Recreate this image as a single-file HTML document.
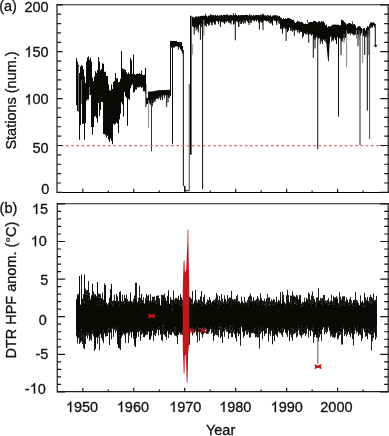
<!DOCTYPE html>
<html><head><meta charset="utf-8"><title>Figure</title>
<style>html,body{margin:0;padding:0;background:#fff;}body{width:389px;height:436px;overflow:hidden;}svg{display:block;will-change:transform;}</style>
</head><body>
<svg width="389" height="436" viewBox="0 0 389 436">
<defs><filter id="bl" x="0" y="0" width="100%" height="100%" color-interpolation-filters="sRGB"><feGaussianBlur stdDeviation="0.3"/></filter></defs>
<rect width="389" height="436" fill="#fff"/>
<g filter="url(#bl)">
<path d="M76.5 58V105.3M77.5 61.5V111M78.5 65V112M79.5 73V139.7M80.5 66.6V125M81.5 65V103.6M82.5 66V123.7M83.5 69.5V123.7M84.5 76.4V139.7M85.5 83V123M86.5 61.5V100.7M87.5 57.5V99.6M88.5 56.3V99.6M89.5 59.7V95M90.5 57.5V95M91.5 61.5V127M92.5 77.5V134.6M93.5 81V127M94.5 76.4V117M95.5 71.2V116M96.5 73V118M97.5 70V122.5M98.5 57V103M99.5 61.5V116.2M100.5 70.3V110M101.5 69V102M102.5 63.2V102M103.5 63.8V134M104.5 71.8V134M105.5 71.8V135M106.5 76V137.4M107.5 76V135.7M108.5 84.5V139.7M109.5 90V142M110.5 90.5V138.6M111.5 84.4V140.9M112.5 89V144.3M113.5 82V123.7M114.5 81V124.8M115.5 73V123.7M116.5 78.3V122.5M117.5 78.3V123.7M118.5 82.3V133M119.5 81.8V119.4M120.5 78.7V113.7M121.5 51V102.2M122.5 68.3V104.5M123.5 69V116.5M124.5 69.5V91.9M125.5 70V96.5M126.5 72.4V97.6M127.5 74V125.7M128.5 72.4V98.8M129.5 74V100M130.5 58V88.4M131.5 60.3V85.5M132.5 74V84.4M133.5 54.6V92.5M134.5 74V92M135.5 74.7V89.6M136.5 74V89.6M137.5 73.5V87.3M138.5 74V87.3M139.5 73V87.3M140.5 74V86.7M141.5 70.6V87.8M142.5 74.7V87.3M143.5 75.2V91.3M144.5 74.7V91.3M145.5 67.8V93.6M146.5 97.9V104.5M147.5 97.9V103.9M148.5 91.7V103.3M149.5 91.6V103.3M150.5 91.5V103.3M151.5 91.43V103.3M152.5 91.37V103.3M153.5 91.3V99.6M154.5 91.08V99.35M155.5 90.86V99.1M156.5 90.64V98.85M157.5 90.42V98.6M158.5 90.2V96.2M159.5 90.17V95.9M160.5 90.13V95.6M161.5 90.1V95.54M162.5 90.07V95.48M163.5 90.03V95.42M164.5 90V95.36M165.5 89.97V95.3M166.5 89.93V95.24M167.5 89.9V95.18M168.5 89.87V95.12M169.5 89.83V95.06M170.5 89.8V95M170.5 41V47.5M171.5 41V47.5M172.5 41V47.5M173.5 41V47.5M174.5 41V47.5M175.5 41V46.4M176.5 41V46.4M177.5 42.1V46.4M178.5 42.1V46.77M179.5 42.1V47.5M180.5 42.1V49.25M181.5 42.1V51M182.5 46V53.5M192.5 16.76V26.43M193.5 17.15V25.84M194.5 17.7V25.77M195.5 16.54V26.52M196.5 16.48V26.08M197.5 16.8V25.97M198.5 16.18V27.4M199.5 16.49V24.14M200.5 15.87V24.64M201.5 15.93V23.45M202.5 15.87V23.54M203.5 15.62V24.47M204.5 15.96V25.49M205.5 15.35V25.49M206.5 15.73V23.49M207.5 16.58V23.74M208.5 15.6V24.07M209.5 15.64V22.67M210.5 15.8V21.36M211.5 15.16V22.19M212.5 14.94V22.5M213.5 14.91V22.31M214.5 15.62V23.69M215.5 14.76V21.02M216.5 15.8V21.02M217.5 14.94V21.74M218.5 15.68V23.25M219.5 15.43V21.31M220.5 15.25V21.15M221.5 14.93V21.84M222.5 15.51V21.84M223.5 14.91V21.46M224.5 14.87V20.79M225.5 14.92V20.56M226.5 14.9V20.78M227.5 15.15V21.1M228.5 15.41V20.71M229.5 15.35V21.65M230.5 14.74V22.93M231.5 15.14V20.88M232.5 15.26V20.53M233.5 15.16V24.52M234.5 15.04V21.2M235.5 15.08V21.89M236.5 14.92V21.42M237.5 15.71V20.27M238.5 14.87V20.45M239.5 15.32V20.63M240.5 15.18V20.29M241.5 15.11V23.66M242.5 14.91V20.64M243.5 15.32V20.46M244.5 15V20.21M245.5 14.85V20.49M246.5 14.94V20.66M247.5 14.95V21.94M248.5 15.59V22.89M249.5 14.98V20.2M250.5 15.27V20.51M251.5 15.03V20.77M252.5 15.85V20.23M253.5 14.93V20.61M254.5 15.45V21.46M255.5 15.13V20.14M256.5 14.88V21.41M257.5 15.09V20.11M258.5 15.01V22.35M259.5 15.31V23.83M260.5 15.36V20.47M261.5 15.01V21.34M262.5 15.19V20.47M263.5 15.27V20.76M264.5 15.31V20.53M265.5 15.33V20.72M266.5 15.66V21.43M267.5 15.11V20.94M268.5 15.28V20.58M269.5 15.73V20.39M270.5 15.24V21.55M271.5 16.55V21.62M272.5 15.62V20.73M273.5 15.33V20.24M274.5 15.31V20.8M275.5 15.2V21.26M276.5 15.25V21.18M277.5 15.6V20.76M278.5 16.4V20.53M279.5 15.82V20.77M280.5 17.43V28.77M281.5 18.06V28.8M282.5 19.42V33.72M283.5 18.22V26.93M284.5 19.04V26.52M285.5 18.45V27.53M286.5 18.94V28.56M287.5 17.97V32.16M288.5 17.92V30.61M289.5 18.17V27.72M290.5 18.86V28.31M291.5 19.31V28.62M292.5 19.93V28.84M293.5 19.74V30.26M294.5 21.64V30.39M295.5 22.98V29.42M296.5 22.02V30.15M297.5 20.75V29.94M298.5 21.5V30.03M299.5 21.49V32.1M300.5 22.13V31.73M301.5 21.74V31.92M302.5 22.38V32.66M303.5 23.49V31.52M304.5 24.03V33.35M305.5 23.53V34.31M306.5 24.1V32.56M307.5 23.91V32.54M308.5 22.64V34.43M309.5 22.14V34.23M310.5 22.12V33.28M311.5 21.87V35.69M312.5 22.09V34.39M313.5 20.89V38.34M314.5 20.87V36.19M315.5 21.16V38.56M316.5 21.84V37.38M317.5 22.45V36.88M318.5 21.53V38.69M319.5 21.25V37.67M320.5 22.2V38.26M321.5 21.08V39.07M322.5 21.85V41.1M323.5 21.3V39.06M324.5 22.97V39.05M325.5 25.32V38.83M326.5 24.43V41.48M327.5 27.31V40.54M328.5 26.03V45.86M329.5 26.64V40.28M330.5 26.24V35.75M331.5 25.69V36.23M332.5 24.75V39.22M333.5 24.71V36.9M334.5 24.62V37.28M335.5 24.6V40.2M336.5 24.76V37.89M337.5 24.71V37.33M338.5 24.76V37.72M339.5 25.38V38.39M340.5 25.21V38.09M341.5 19.75V40.09M342.5 20.09V38.38M343.5 20.89V36.98M344.5 22.09V37.61M345.5 23.04V37.75M346.5 24.5V35.34M347.5 23.77V32.65M348.5 23.22V33.95M349.5 23.09V33.38M350.5 23.16V32.79M351.5 24.09V33.34M352.5 24.2V33.84M353.5 24.32V34.49M354.5 24.01V33.41M355.5 25.52V33.03M356.5 28.18V32.71M357.5 27.04V33.37M358.5 26.22V33.77M359.5 26.26V33.43M360.5 26.7V35.73M361.5 28.15V33.43M362.5 29.21V35.69M363.5 28.34V35.79M364.5 28.07V35.3M365.5 30.39V33.91M366.5 27.87V33.88M367.5 26.19V34.78M368.5 26.59V34.52M369.5 26.29V35.26M370.5 22.44V27.85M371.5 22.37V26M372.5 22.48V27.37M373.5 22.32V25.5M374.5 23.11V25.43" stroke="#0b0905" stroke-width="1" fill="none"/>
<path d="M193.5 24.4V27.3M194.5 24.4V28.86M195.5 24.4V27.31M196.5 24.4V27.74M197.5 24.4V29.39M199.5 22.4V24.88M200.5 22.4V24.51M201.5 22.4V27.15M202.5 22.4V25.89M203.5 22.4V24.98M204.5 22.4V25.51M205.5 13.58V16.32M205.5 22.4V25.2M206.5 22.4V26.94M208.5 22.4V25.92M209.5 21.35V25.14M210.5 13.92V16M210.5 20.3V22.75M211.5 20.24V25.18M214.5 20.08V22.8M215.5 20.02V24.93M218.5 19.86V24.39M220.5 19.74V22.32M221.5 19.69V22.23M223.5 19.58V22.81M224.5 19.52V24.15M225.5 19.47V22.43M226.5 19.41V22.53M227.5 13.98V15.66M228.5 19.3V22.87M229.5 19.29V23.06M230.5 19.28V22.84M233.5 13.08V15.71M234.5 19.25V23.7M235.5 13.28V15.72M237.5 19.23V22.31M238.5 19.22V24.06M239.5 19.21V22.02M240.5 19.2V24.14M241.5 19.19V23.88M242.5 19.18V22.46M243.5 19.18V23.94M244.5 19.17V22.73M245.5 19.16V23.58M248.5 19.13V21.74M249.5 14V15.82M250.5 19.12V22.93M251.5 19.11V23.09M254.5 19.08V21.27M260.5 14.35V15.9M260.5 19.03V21.79M261.5 19.02V22.73M262.5 13.53V15.91M262.5 19.02V23.05M263.5 13.96V15.92M266.5 19.04V21.16M268.5 19.08V22.1M269.5 19.1V22.98M270.5 19.12V23.71M271.5 19.14V23.44M272.5 19.16V22.88M276.5 19.24V23.41M278.5 19.28V23.23M279.5 19.3V24.13M280.5 25.5V28.87M281.5 25.5V28.64M283.5 25.5V28.62M284.5 25.5V28.24M285.5 26.5V28.74M286.5 26.5V29.4M288.5 26.5V28.89M290.5 26.5V31M291.5 27.6V30.9M292.5 27.77V31.9M295.5 28.27V30.46M297.5 28.6V32.21M299.5 29.17V33.57M306.5 31.1V34.36M307.5 19.87V22.63M307.5 31.35V34.51M310.5 32.1V34.51M314.5 34.86V39.82M315.5 35.12V38.84M319.5 36.15V38.25M320.5 36.41V40.57M321.5 36.67V41.65M323.5 37.18V39.86M324.5 37.44V40.95M325.5 37.7V42.28M326.5 39V43.01M327.5 39V41.85M329.5 39V43.37M330.5 34.6V37.01M332.5 34.95V39.86M333.5 35.12V38.62M334.5 35.3V38.25M335.5 35.48V38.18M340.5 36.35V38.85M341.5 36.53V41.28M342.5 36.7V41.51M343.5 35.93V38.2M344.5 35.15V39.56M347.5 30.5V33.75M350.5 30.91V35.22M352.5 21.36V24.3M352.5 31.19V34.41M353.5 31.33V35.52M354.5 31.46V35.14M355.5 31.6V34.96M356.5 31.71V33.93M357.5 31.81V34.4M358.5 31.92V35.28M363.5 32.46V36.13M365.5 32.67V36.94M366.5 32.78V37.26M368.5 32.99V37.13M369.5 25.12V27.2M370.5 24.4V28.39M371.5 24.4V27.66M372.5 24.4V27.28M374.5 24.4V27.51M150.5 102.3V105.1M152.5 102.3V106.36M153.5 98.6V103.2M154.5 98.35V101.83M155.5 98.1V101.36M158.5 95.2V99.5M159.5 94.9V98.02M161.5 94.54V97.49M164.5 94.36V98.56M166.5 94.24V96.43M168.5 94.12V98.05M169.5 94.06V97.97" stroke="#0b0905" stroke-width="0.8" fill="none"/>
<path d="M325.8 38L329.8 38L328.8 61.3L328.1 61.3Z" fill="#0b0905"/>
<path d="M78.5 66.5V112" stroke="#6a6a6a" stroke-width="1"/>
<path d="M81.5 80V103.6" stroke="#707070" stroke-width="1"/>
<path d="M89.5 87V95" stroke="#777" stroke-width="1"/>
<path d="M145.9 84V107" stroke="#0b0905" stroke-width="1"/>
<path d="M148.6 100V127.8" stroke="#888" stroke-width="1"/>
<path d="M151.5 100V151.3" stroke="#333" stroke-width="1"/>
<path d="M160.6 95V100" stroke="#0b0905" stroke-width="1"/>
<path d="M162.6 95V100" stroke="#0b0905" stroke-width="1"/>
<path d="M166.7 95V107" stroke="#0b0905" stroke-width="1"/>
<path d="M168 95V102.5" stroke="#0b0905" stroke-width="1"/>
<path d="M170.5 41V96" stroke="#0b0905" stroke-width="1"/>
<path d="M172.5 44V143.8" stroke="#0b0905" stroke-width="1"/>
<path d="M178.4 46V49.7" stroke="#0b0905" stroke-width="1"/>
<path d="M183.35 50V185.7" stroke="#0b0905" stroke-width="1"/>
<path d="M184.8 186V191" stroke="#0b0905" stroke-width="1"/>
<path d="M189.3 84V190.6" stroke="#555" stroke-width="1.1"/>
<path d="M190.8 15.7V154.7" stroke="#0b0905" stroke-width="1.6"/>
<path d="M192.6 44V54.7" stroke="#999" stroke-width="1"/>
<path d="M194.2 22V34.7" stroke="#0b0905" stroke-width="1"/>
<path d="M196.2 22V30.6" stroke="#0b0905" stroke-width="1"/>
<path d="M198.3 22V32.6" stroke="#0b0905" stroke-width="1"/>
<path d="M200.4 22V39.7" stroke="#0b0905" stroke-width="1"/>
<path d="M202.6 20V189" stroke="#0b0905" stroke-width="1"/>
<path d="M203.8 20V35.8" stroke="#888" stroke-width="1.2"/>
<path d="M212.2 20V25.4" stroke="#0b0905" stroke-width="1"/>
<path d="M214.7 20V24.4" stroke="#0b0905" stroke-width="1"/>
<path d="M220.4 18V27" stroke="#0b0905" stroke-width="1"/>
<path d="M224.5 18V23.9" stroke="#0b0905" stroke-width="1"/>
<path d="M231.1 18V24.5" stroke="#0b0905" stroke-width="1"/>
<path d="M235.3 18V40.3" stroke="#0b0905" stroke-width="1"/>
<path d="M238.8 18V27" stroke="#0b0905" stroke-width="1.3"/>
<path d="M249.1 18V25" stroke="#0b0905" stroke-width="1"/>
<path d="M259.4 18V29.6" stroke="#0b0905" stroke-width="1"/>
<path d="M263 18V30.1" stroke="#0b0905" stroke-width="1"/>
<path d="M272.5 18V25.5" stroke="#0b0905" stroke-width="1"/>
<path d="M276.8 18V25" stroke="#0b0905" stroke-width="1"/>
<path d="M282 22V28.6" stroke="#0b0905" stroke-width="1"/>
<path d="M286.1 22V41" stroke="#0b0905" stroke-width="1"/>
<path d="M294.3 25V35.8" stroke="#0b0905" stroke-width="1"/>
<path d="M298 28V32.7" stroke="#0b0905" stroke-width="1"/>
<path d="M302.6 28V37.8" stroke="#0b0905" stroke-width="1"/>
<path d="M303.5 28V36.2" stroke="#0b0905" stroke-width="1"/>
<path d="M308.7 30V42.8" stroke="#0b0905" stroke-width="1"/>
<path d="M313.3 30V57.8" stroke="#0b0905" stroke-width="1"/>
<path d="M315 32V48.5" stroke="#0b0905" stroke-width="1"/>
<path d="M317.75 32V149.4" stroke="#111" stroke-width="1"/>
<path d="M320.3 36V43.9" stroke="#0b0905" stroke-width="1"/>
<path d="M322.6 36V43.9" stroke="#0b0905" stroke-width="1"/>
<path d="M331.8 34V41.8" stroke="#0b0905" stroke-width="1"/>
<path d="M333.4 34V40.8" stroke="#0b0905" stroke-width="1"/>
<path d="M336.5 34V44" stroke="#0b0905" stroke-width="1"/>
<path d="M338.5 34V116.6" stroke="#0b0905" stroke-width="1"/>
<path d="M341 34V55" stroke="#0b0905" stroke-width="1"/>
<path d="M344.1 34V42.8" stroke="#666" stroke-width="1"/>
<path d="M346.6 30V67.3" stroke="#888" stroke-width="1"/>
<path d="M356.5 30V38.7" stroke="#777" stroke-width="1"/>
<path d="M358 30V46.3" stroke="#0b0905" stroke-width="1"/>
<path d="M359.2 30V40" stroke="#777" stroke-width="1"/>
<path d="M360 30V145" stroke="#222" stroke-width="1"/>
<path d="M362.6 30V62.8" stroke="#888" stroke-width="1"/>
<path d="M364.7 30V55" stroke="#0b0905" stroke-width="1"/>
<path d="M367.3 30V110.6" stroke="#0b0905" stroke-width="1"/>
<path d="M368.3 30V55" stroke="#666" stroke-width="1"/>
<path d="M369.6 24V139" stroke="#444" stroke-width="1"/>
<path d="M375.3 24V46" stroke="#0b0905" stroke-width="1"/>
<circle cx="375.6" cy="45.8" r="1.3" fill="#0b0905"/>
<path d="M183.35 185.7L184.8 186.3L184.8 191L189.3 190.6" stroke="#0b0905" stroke-width="1" fill="none"/>
<path d="M57.5 145.5H388" stroke="#d47276" stroke-width="1.25" stroke-dasharray="2.8 2.458" stroke-dashoffset="2.116"/>
<path d="M76.5 299.31V330.56M77.5 294.53V340.19M78.5 295.44V338.06M79.5 295.44V332.82M80.5 304.96V332.73M81.5 287.48V329.23M82.5 298.72V335.79M83.5 302.83V333.78M84.5 302.59V337.4M85.5 294.35V337.35M86.5 303.98V332.42M87.5 294.43V334.5M88.5 299.39V333.5M89.5 295.68V337.88M90.5 300.6V334.07M91.5 296.2V333.17M92.5 298.38V330.2M93.5 295.57V333.29M94.5 296.86V340.16M95.5 294.32V341.22M96.5 297.13V337.25M97.5 304.25V338.47M98.5 297.79V336.76M99.5 297.69V334.01M100.5 305.2V333.4M101.5 300.23V337.98M102.5 297.34V332.99M103.5 304.3V330.42M104.5 294.62V333.1M105.5 302.9V333.01M106.5 302.87V333.17M107.5 304.87V330.1M108.5 304.03V328.72M109.5 301.02V335.32M110.5 294.33V332.37M111.5 303.28V328.02M112.5 304.58V328.35M113.5 306.21V329.18M114.5 299.29V329.68M115.5 301.33V327.09M116.5 299.87V328.1M117.5 301.3V335.1M118.5 301.08V327.03M119.5 305.85V335.64M120.5 293.93V344.92M121.5 304.08V336.89M122.5 301.47V331.71M123.5 303.09V333.5M124.5 302.55V333.19M125.5 299.25V335.16M126.5 299.61V331.99M127.5 301.23V332.26M128.5 302.95V333.67M129.5 301.55V331.1M130.5 299.15V331.04M131.5 301.2V333.39M132.5 302.73V331.79M133.5 301.29V336.11M134.5 299.07V336.22M135.5 298.93V336.3M136.5 300.98V336.11M137.5 304.91V332.15M138.5 300.53V332.67M139.5 296.61V327.88M140.5 302.73V330.43M141.5 293.95V331.11M142.5 300.37V330.06M143.5 302.42V333.6M144.5 303.89V337.19M145.5 304.99V335.35M146.5 299.53V331.75M147.5 299.3V328.94M148.5 294.88V331.17M149.5 302.24V339.54M150.5 301.7V331.79M151.5 301.61V335.36M152.5 298.67V330.71M153.5 301.37V328.07M154.5 300.54V332.21M155.5 302.33V334.23M156.5 303.85V331.77M157.5 298.05V329.79M158.5 302.45V332.16M159.5 300.9V327.22M160.5 305.26V334.48M161.5 297.76V334.76M162.5 299.56V325.82M163.5 295.22V325.26M164.5 299.59V330.66M165.5 297.62V334.19M166.5 300.8V337.49M167.5 303.14V330.79M168.5 293.02V334.63M169.5 303.67V332.15M170.5 298.66V329.22M171.5 304.29V335.2M172.5 310.4V331.78M173.5 299.03V332.51M174.5 301.63V327.37M175.5 303.11V327.91M176.5 303.99V336.25M177.5 301.01V335.25M178.5 299.72V332.86M179.5 304.35V332.27M180.5 295.77V334.74M181.5 305.53V332.27M182.5 304.89V330.28M183.5 302.56V330.84M184.5 301.73V330.79M185.5 304.95V332.81M186.5 303.08V328M187.5 300.95V330.16M188.5 301.55V332.27M189.5 301.78V327.23M190.5 297.67V328.14M191.5 303.3V328.68M192.5 303.51V327.16M193.5 305.78V328.55M194.5 301.61V332.22M195.5 302.6V329.16M196.5 302.43V326.94M197.5 302.39V332M198.5 302.98V326.92M199.5 301.29V328.5M200.5 303.14V331.69M201.5 300.25V332.61M202.5 305.34V328.51M203.5 301.73V333.33M204.5 303.61V327.31M205.5 304.43V329.41M206.5 304.32V329.63M207.5 302.23V333.03M208.5 300.21V332.51M209.5 303.38V329.13M210.5 300.13V327.22M211.5 304.27V329.6M212.5 301.88V329.92M213.5 300.47V340.57M214.5 301.92V330.28M215.5 301.93V329M216.5 301.08V332.52M217.5 303.9V330.38M218.5 307.77V329.8M219.5 302.24V327.46M220.5 304.43V326.92M221.5 301.42V327.69M222.5 302.42V332.18M223.5 303.71V331.44M224.5 298.42V328.33M225.5 299V327.78M226.5 303.58V329.82M227.5 302.89V331.3M228.5 302.02V334.19M229.5 300.25V326.94M230.5 297.56V325.31M231.5 305.17V330.66M232.5 298.99V328.1M233.5 301.06V324.77M234.5 302.09V330.76M235.5 301.67V338.13M236.5 299.89V334.35M237.5 301.51V331.41M238.5 302.02V334.38M239.5 303.09V328.72M240.5 303.21V339.34M241.5 301.79V326.55M242.5 301.79V329.11M243.5 304.17V332.83M244.5 303.73V333.03M245.5 302.99V330.77M246.5 306V330.81M247.5 302.36V330.22M248.5 305.32V330.27M249.5 299.69V334.51M250.5 300.34V333.57M251.5 301.61V333.09M252.5 301.85V332.85M253.5 297.88V330.82M254.5 302.92V328.2M255.5 300.63V333.9M256.5 302.11V333.95M257.5 304.11V334.21M258.5 304.14V327.89M259.5 302.99V331.15M260.5 295.12V328.93M261.5 298.37V326.06M262.5 305.21V338.11M263.5 303.07V330.03M264.5 304.51V334.4M265.5 307.85V328.89M266.5 305.62V329.51M267.5 300.89V328.05M268.5 305.55V338.41M269.5 304.22V331.66M270.5 304.42V332.81M271.5 301.83V327.06M272.5 304.39V344.25M273.5 299.24V330.5M274.5 305.79V335.54M275.5 303.02V333.97M276.5 301.89V333.97M277.5 303.34V328.7M278.5 300.95V331.47M279.5 301.23V332.55M280.5 297.18V327.89M281.5 303.54V333.22M282.5 299.14V328.15M283.5 297.5V332.26M284.5 304.03V328.93M285.5 305.78V332.06M286.5 302.6V333.71M287.5 299.31V333.71M288.5 299.31V329.05M289.5 302.11V334.5M290.5 303.54V333.73M291.5 301.31V333.25M292.5 306.79V328.6M293.5 296.66V329.33M294.5 303.39V332.92M295.5 303.56V331.68M296.5 304.29V332.25M297.5 296.39V332.19M298.5 305.01V325.37M299.5 296.17V328.55M300.5 298.86V334.88M301.5 306.35V326.79M302.5 305.93V332.68M303.5 305.1V332.02M304.5 300.48V333.12M305.5 301.74V327.15M306.5 298.27V327.99M307.5 299.59V326.36M308.5 302.33V334.04M309.5 302.01V330.32M310.5 303.98V333.99M311.5 306.8V328.95M312.5 303.44V326.86M313.5 301.77V328.56M314.5 301.07V335.77M315.5 306.25V334.45M316.5 305.8V337.69M317.5 304.02V332.08M318.5 300.18V328.73M319.5 300.52V333.72M320.5 300.24V330.22M321.5 303.64V334.22M322.5 304.38V329.47M323.5 299.72V327.35M324.5 301.5V330.93M325.5 303.86V329.46M326.5 302.25V330.78M327.5 302.26V330.85M328.5 304.26V326.52M329.5 304.43V330.36M330.5 302.97V334.55M331.5 299.62V330.87M332.5 301.86V334.82M333.5 304.95V331.91M334.5 305V334.03M335.5 299.93V334.43M336.5 299.93V330.96M337.5 298.78V332.7M338.5 303.35V331.04M339.5 306.28V331.72M340.5 299.47V332.65M341.5 304.27V332.65M342.5 298.97V333.59M343.5 304.98V326.07M344.5 305.9V329.95M345.5 301.81V331.53M346.5 299.51V332.37M347.5 301V333M348.5 304.29V331.46M349.5 301.67V328.63M350.5 304.34V330.25M351.5 303.71V332.21M352.5 305.73V335.88M353.5 299.96V331.99M354.5 300.74V327.64M355.5 300.98V328.22M356.5 305.08V331.19M357.5 301.6V325.91M358.5 305.02V334.14M359.5 305.51V333.61M360.5 299.64V333.78M361.5 302.17V329.73M362.5 300.69V328.39M363.5 306.52V328.7M364.5 301.57V331.03M365.5 306.27V329.7M366.5 300.59V333.55M367.5 300.42V332.06M368.5 302.89V329.69M369.5 302.41V332.12M370.5 302.73V334.56M371.5 303.7V331.44M372.5 301.94V335.27M373.5 299.72V328.98M374.5 300.98V327.91M375.5 301.51V336.62M376.5 302.07V326.45" stroke="#0b0905" stroke-width="1" fill="none"/>
<path d="M76.5 298.97V299.31M76.5 330.56V336.41M77.5 340.19V343.55M78.5 293.66V295.44M79.5 287.09V295.44M79.5 332.82V344.02M80.5 304.57V304.96M80.5 332.73V342.6M81.5 274.53V287.48M81.5 329.23V341.33M82.5 335.79V343.98M83.5 294.26V302.83M83.5 333.78V347.83M84.5 294.33V302.59M84.5 337.4V349.23M85.5 288.63V294.35M85.5 337.35V344.08M86.5 290.45V303.98M86.5 332.42V335.57M87.5 290V294.43M87.5 334.5V338.55M88.5 281.06V299.39M88.5 333.5V335.44M89.5 292.77V295.68M89.5 337.88V341.04M90.5 298.85V300.6M90.5 334.07V339.17M91.5 295.26V296.2M91.5 333.17V340.79M92.5 294.33V298.38M92.5 330.2V334.2M93.5 291.49V295.57M93.5 333.29V336.5M94.5 294.23V296.86M94.5 340.16V350.91M95.5 341.22V342.07M96.5 296.21V297.13M96.5 337.25V337.63M97.5 299V304.25M97.5 338.47V343.8M98.5 293.5V297.79M98.5 336.76V337.63M99.5 293.78V297.69M99.5 334.01V350.11M100.5 294.21V305.2M100.5 333.4V334.34M101.5 298.02V300.23M102.5 292.56V297.34M102.5 332.99V340.59M103.5 299.71V304.3M103.5 330.42V343.09M104.5 283.39V294.62M104.5 333.1V333.57M105.5 295.12V302.9M105.5 333.01V336.78M106.5 333.17V336.16M107.5 304.43V304.87M107.5 330.1V336.05M108.5 302.71V304.03M108.5 328.72V332.56M109.5 297.68V301.02M109.5 335.32V337.96M110.5 289V294.33M110.5 332.37V332.75M111.5 296.09V303.28M111.5 328.02V339.39M112.5 300.99V304.58M112.5 328.35V329M113.5 300.43V306.21M113.5 329.18V336.82M114.5 294.62V299.29M115.5 300.99V301.33M115.5 327.09V332.93M116.5 294.06V299.87M116.5 328.1V330.72M117.5 296.32V301.3M117.5 335.1V344.38M118.5 327.03V335.07M119.5 292.05V305.85M119.5 335.64V348.44M120.5 291.2V293.93M120.5 344.92V349.96M121.5 301.2V304.08M121.5 336.89V337.75M122.5 294.82V301.47M122.5 331.71V335.31M123.5 301.05V303.09M123.5 333.5V333.94M124.5 295.09V302.55M124.5 333.19V335.11M125.5 297.94V299.25M125.5 335.16V342.96M126.5 294.61V299.61M126.5 331.99V333.36M127.5 299.08V301.23M127.5 332.26V333.16M128.5 301.27V302.95M128.5 333.67V343.09M129.5 300.77V301.55M129.5 331.1V335.34M130.5 292.56V299.15M130.5 331.04V332.37M131.5 333.39V337.52M132.5 301.54V302.73M132.5 331.79V332.15M133.5 298.73V301.29M133.5 336.11V338.75M134.5 295.57V299.07M134.5 336.22V345.7M135.5 282.76V298.93M136.5 282.76V300.98M136.5 336.11V337.85M137.5 301.98V304.91M138.5 297.84V300.53M138.5 332.67V336.71M139.5 285.61V296.61M139.5 327.88V331.63M140.5 297.99V302.73M140.5 330.43V340.83M141.5 331.11V334.79M142.5 330.06V333.6M143.5 297.27V302.42M143.5 333.6V337.19M144.5 303.37V303.89M145.5 298.06V304.99M146.5 293.83V299.53M146.5 331.75V334.61M147.5 296.03V299.3M147.5 328.94V334.83M148.5 331.17V331.73M149.5 300.71V302.24M149.5 339.54V340.07M150.5 293.96V301.7M150.5 331.79V339.54M151.5 300.54V301.61M151.5 335.36V336.28M152.5 296.71V298.67M153.5 296.79V301.37M153.5 328.07V340.85M154.5 296.5V300.54M154.5 332.21V335.01M155.5 300.27V302.33M155.5 334.23V336.01M156.5 295.79V303.85M156.5 331.77V333.25M157.5 295.79V298.05M158.5 295.27V302.45M158.5 332.16V335.46M159.5 298.48V300.9M159.5 327.22V329.99M160.5 334.48V334.79M161.5 294.57V297.76M161.5 334.76V340.06M162.5 295V299.56M162.5 325.82V341.37M163.5 325.26V334.15M164.5 293.48V299.59M164.5 330.66V335.18M165.5 334.19V336.73M166.5 337.49V339.65M167.5 295.87V303.14M167.5 330.79V331.35M168.5 290.14V293.02M168.5 334.63V337.97M169.5 332.15V334.35M170.5 296.96V298.66M170.5 329.22V334.88M171.5 299.51V304.29M172.5 300.06V310.4M172.5 331.78V332.22M173.5 290.69V299.03M173.5 332.51V333.42M174.5 299.47V301.63M174.5 327.37V335.36M175.5 297.99V303.11M175.5 327.91V335.85M176.5 298.2V303.99M176.5 336.25V336.68M177.5 298.29V301.01M177.5 335.25V344.02M178.5 295.8V299.72M178.5 332.86V335.05M179.5 299.86V304.35M179.5 332.27V332.86M180.5 294.08V295.77M181.5 297.43V305.53M181.5 332.27V334.31M182.5 299.96V304.89M182.5 330.28V335.16M183.5 299.62V302.56M183.5 330.84V332.69M184.5 299.42V301.73M184.5 330.79V332.25M185.5 289.18V304.95M185.5 332.81V344.13M186.5 300.28V303.08M186.5 328V332.32M187.5 298.83V300.95M187.5 330.16V331.12M188.5 300.51V301.55M188.5 332.27V333.94M189.5 296.62V301.78M189.5 327.23V344.85M190.5 328.14V330.59M191.5 298.87V303.3M191.5 328.68V332.02M192.5 290.83V303.51M192.5 327.16V335.53M193.5 303.35V305.78M193.5 328.55V333.23M194.5 300.56V301.61M194.5 332.22V332.52M195.5 289.95V302.6M195.5 329.16V331.23M196.5 299.72V302.43M196.5 326.94V335.45M197.5 301.66V302.39M197.5 332V342.63M198.5 299.56V302.98M198.5 326.92V332.09M199.5 299.89V301.29M199.5 328.5V340.74M200.5 296.41V303.14M200.5 331.69V332.15M201.5 290.94V300.25M201.5 332.61V334.05M202.5 301.46V305.34M202.5 328.51V337.6M203.5 297.08V301.73M203.5 333.33V334.49M204.5 294.68V303.61M204.5 327.31V332.92M205.5 303.72V304.43M206.5 302.21V304.32M206.5 329.63V333.91M207.5 299.53V302.23M207.5 333.03V333.86M208.5 332.51V333.72M209.5 297.08V303.38M209.5 329.13V331.53M210.5 299.64V300.13M210.5 327.22V329.27M211.5 302.3V304.27M211.5 329.6V333.64M212.5 301.02V301.88M212.5 329.92V332.68M213.5 299.77V300.47M213.5 340.57V341.08M214.5 300.03V301.92M214.5 330.28V335.77M215.5 298.35V301.93M215.5 329V334.46M216.5 293V301.08M216.5 332.52V335.09M217.5 295.13V303.9M217.5 330.38V335.42M218.5 299.95V307.77M218.5 329.8V337.13M219.5 296.06V302.24M219.5 327.46V330.14M220.5 300.64V304.43M220.5 326.92V338.23M221.5 294.1V301.42M221.5 327.69V336.57M222.5 298.81V302.42M222.5 332.18V343.06M223.5 301.81V303.71M223.5 331.44V332.07M224.5 295.38V298.42M224.5 328.33V336.77M225.5 327.78V329.8M226.5 301.41V303.58M226.5 329.82V331.82M227.5 295.15V302.89M227.5 331.3V331.97M228.5 298.67V302.02M228.5 334.19V338.89M229.5 297.56V300.25M229.5 326.94V333.64M230.5 325.31V333.03M231.5 290.76V305.17M231.5 330.66V337.08M232.5 328.1V337.08M233.5 299.8V301.06M233.5 324.77V332.53M234.5 298.9V302.09M234.5 330.76V334.2M235.5 299.34V301.67M236.5 296.23V299.89M236.5 334.35V341.45M237.5 294.75V301.51M237.5 331.41V332.7M238.5 300.9V302.02M238.5 334.38V336.14M239.5 301.45V303.09M239.5 328.72V333.94M240.5 339.34V345.71M241.5 296.52V301.79M241.5 326.55V327.23M242.5 300.98V301.79M242.5 329.11V331.83M243.5 303.07V304.17M243.5 332.83V337.71M244.5 297V303.73M244.5 333.03V335.76M245.5 301.76V302.99M245.5 330.77V331.16M246.5 302.22V306M246.5 330.81V334.41M247.5 300.12V302.36M247.5 330.22V334.69M248.5 297.11V305.32M248.5 330.27V332.32M249.5 295.81V299.69M249.5 334.51V337.71M250.5 293.62V300.34M250.5 333.57V337.27M251.5 296.36V301.61M251.5 333.09V333.57M252.5 300.71V301.85M253.5 297.19V297.88M253.5 330.82V333.07M254.5 300.67V302.92M254.5 328.2V334.14M255.5 300.17V300.63M255.5 333.9V337.55M256.5 299.16V302.11M256.5 333.95V336.77M257.5 296.26V304.11M257.5 334.21V337.68M258.5 298.18V304.14M258.5 327.89V337.12M259.5 300.46V302.99M259.5 331.15V348.6M260.5 293.32V295.12M260.5 328.93V333.85M261.5 326.06V332.02M262.5 300.51V305.21M262.5 338.11V339.37M263.5 300.84V303.07M263.5 330.03V330.97M264.5 298.81V304.51M264.5 334.4V336.14M265.5 301.39V307.85M265.5 328.89V333.9M266.5 298.52V305.62M266.5 329.51V333.28M267.5 293.97V300.89M268.5 297.67V305.55M268.5 338.41V341.44M269.5 297.12V304.22M269.5 331.66V333.74M270.5 301.29V304.42M270.5 332.81V336.18M271.5 299.39V301.83M271.5 327.06V330.73M272.5 300.7V304.39M273.5 298.87V299.24M273.5 330.5V335.99M274.5 299.88V305.79M274.5 335.54V341.21M275.5 302.29V303.02M275.5 333.97V334.31M276.5 296.77V301.89M276.5 333.97V335.47M277.5 301.85V303.34M277.5 328.7V337.33M278.5 299.76V300.95M279.5 300.7V301.23M279.5 332.55V333.12M280.5 292.07V297.18M280.5 327.89V333.2M281.5 333.22V334.86M282.5 291.65V299.14M282.5 328.15V336.89M283.5 294.69V297.5M284.5 301.88V304.03M284.5 328.93V329.45M285.5 303.52V305.78M285.5 332.06V332.66M286.5 295.14V302.6M286.5 333.71V334.69M287.5 289.7V299.31M287.5 333.71V336.92M288.5 295.09V299.31M288.5 329.05V330.68M289.5 334.5V341.19M290.5 295.47V303.54M290.5 333.73V334.77M291.5 295.78V301.31M291.5 333.25V337.46M292.5 291.24V306.79M292.5 328.6V340.78M293.5 295.33V296.66M293.5 329.33V334.44M294.5 295.98V303.39M294.5 332.92V333.59M295.5 296.96V303.56M295.5 331.68V333.08M296.5 294.9V304.29M296.5 332.25V337.54M297.5 295.6V296.39M297.5 332.19V336.35M298.5 299.2V305.01M298.5 325.37V330.26M299.5 295.2V296.17M299.5 328.55V334.59M300.5 294.84V298.86M300.5 334.88V335.66M301.5 303.52V306.35M301.5 326.79V337.92M302.5 301.91V305.93M302.5 332.68V334.98M303.5 302.19V305.1M303.5 332.02V334.07M304.5 297.7V300.48M305.5 327.15V335.77M306.5 297.6V298.27M306.5 327.99V333.91M307.5 298.95V299.59M307.5 326.36V328.84M308.5 292.31V302.33M308.5 334.04V337.48M309.5 293.85V302.01M309.5 330.32V330.85M310.5 299.71V303.98M310.5 333.99V336.13M311.5 295.46V306.8M311.5 328.95V330.45M312.5 291.49V303.44M312.5 326.86V331.84M313.5 296.28V301.77M313.5 328.56V342.73M314.5 299.12V301.07M314.5 335.77V336.96M315.5 301.82V306.25M315.5 334.45V334.75M316.5 297.5V305.8M316.5 337.69V337.99M317.5 297.48V304.02M317.5 332.08V337.91M318.5 288.26V300.18M318.5 328.73V341.61M319.5 333.72V337.16M320.5 297.76V300.24M320.5 330.22V334.43M321.5 298.59V303.64M321.5 334.22V340.73M322.5 297.93V304.38M322.5 329.47V330.09M323.5 295.03V299.72M324.5 295.03V301.5M324.5 330.93V334.47M325.5 300.46V303.86M325.5 329.46V331.91M326.5 300.65V302.25M326.5 330.78V333.74M327.5 300.1V302.26M327.5 330.85V331.86M328.5 298.03V304.26M328.5 326.52V327.68M329.5 301.67V304.43M329.5 330.36V331.27M330.5 300.63V302.97M330.5 334.55V336.81M331.5 294.7V299.62M331.5 330.87V335.38M332.5 301.39V301.86M332.5 334.82V337.24M333.5 296.21V304.95M333.5 331.91V337.52M334.5 297.38V305M334.5 334.03V338.28M335.5 297.38V299.93M335.5 334.43V336.8M336.5 296.21V299.93M336.5 330.96V332.89M337.5 297.81V298.78M337.5 332.7V339.46M338.5 302.92V303.35M338.5 331.04V338.61M339.5 292.36V306.28M339.5 331.72V335.59M340.5 296.85V299.47M340.5 332.65V334.46M341.5 299.47V304.27M341.5 332.65V344.55M342.5 296.26V298.97M342.5 333.59V344.55M343.5 296.37V304.98M343.5 326.07V329.21M344.5 296.15V305.9M344.5 329.95V335.79M345.5 301.35V301.81M345.5 331.53V333.99M346.5 297.46V299.51M346.5 332.37V336.4M347.5 299.87V301M347.5 333V334.36M348.5 302.65V304.29M348.5 331.46V332.11M349.5 299.14V301.67M349.5 328.63V334.79M350.5 297.02V304.34M350.5 330.25V337.21M351.5 300.21V303.71M351.5 332.21V333.32M352.5 302.98V305.73M352.5 335.88V339.01M353.5 331.99V345.49M354.5 299.76V300.74M354.5 327.64V333.99M355.5 292.05V300.98M355.5 328.22V330.19M356.5 299.87V305.08M356.5 331.19V333.26M357.5 300.57V301.6M357.5 325.91V332.12M358.5 303V305.02M358.5 334.14V336.11M359.5 305.01V305.51M359.5 333.61V334.47M360.5 295.37V299.64M360.5 333.78V335.03M361.5 329.73V340.97M362.5 328.39V338.43M363.5 302.76V306.52M363.5 328.7V329.29M364.5 292.89V301.57M364.5 331.03V332.14M365.5 297.3V306.27M365.5 329.7V336.79M366.5 299.58V300.59M366.5 333.55V336.26M367.5 296.91V300.42M367.5 332.06V339.28M368.5 300.93V302.89M368.5 329.69V333.21M369.5 297.23V302.41M369.5 332.12V334.21M370.5 294.79V302.73M371.5 296.91V303.7M371.5 331.44V350.5M372.5 298.16V301.94M372.5 335.27V341.08M373.5 293.52V299.72M373.5 328.98V337.84M374.5 300.22V300.98M374.5 327.91V332.72M375.5 299.7V301.51M375.5 336.62V339.8M376.5 295.84V302.07M376.5 326.45V337.46" stroke="#0b0905" stroke-width="1" fill="none" opacity="0.92"/>
<path d="M317.8 338V364" stroke="#777" stroke-width="1.2"/>
<path d="M79.5 276V300M84.5 274.6V300M92.5 283.8V300M97.5 282V300M105.5 285V300M111.5 284V300M80.5 330V340.6M95.5 330V349M109.5 330V345M118.5 330V348M135.5 330V347" stroke="#0b0905" stroke-width="1"/>
<path d="M182.7 292L183.1 277L183.6 261L184.5 260.3L184.8 272L185.6 271.5L186.3 268.5L186.8 254L187.4 243L187.6 229.5L188.3 229.5L188.5 246L188.9 268L189.3 285L189.2 342.4L188.1 354.4L187.9 370L187.4 382.8L186.7 382.8L186.2 365L185.6 354.4L184.8 356L184.5 373.4L183.7 373.4L183.3 360L183 354.4L182.7 342.4Z" fill="#be1a1e"/>
<path d="M148.1 313.6L151.7 315.03L155.3 313.6L154.58 316.2L155.3 318.8L151.7 317.37L148.1 318.8L148.82 316.2Z" fill="#be1a1e"/>
<path d="M314.4 364.1L318 365.53L321.6 364.1L320.88 366.7L321.6 369.3L318 367.87L314.4 369.3L315.12 366.7Z" fill="#be1a1e"/>
<path d="M189.6 329.1L194.4 332.9M189.6 332.9L194.4 329.1" stroke="#be1a1e" stroke-width="1.3" fill="none"/>
<path d="M199.6 328.2L206.4 332.4M199.6 332.4L206.4 328.2" stroke="#be1a1e" stroke-width="1.3" fill="none"/>
<path d="M57 4.7H388.2" stroke="#1c1c1c" stroke-width="1.15" fill="none"/>
<path d="M57 192.5H388.2" stroke="#000" stroke-width="1.15" fill="none"/>
<path d="M57 4.1V193M388.2 4.1V193" stroke="#1c1c1c" stroke-width="1.2" fill="none"/>
<path d="M57.25 203.7H388.2M57.25 391.6H388.2" stroke="#1c1c1c" stroke-width="1.15" fill="none"/>
<path d="M57.25 203.1V392.2M388.2 203.1V392.2" stroke="#1c1c1c" stroke-width="1.2" fill="none"/>
<path d="M57.1 192.4H62.6M388.2 192.4H380.2M57.1 183.02H61.1M388.2 183.02H384.2M57.1 173.64H61.1M388.2 173.64H384.2M57.1 164.26H61.1M388.2 164.26H384.2M57.1 154.88H61.1M388.2 154.88H384.2M57.1 145.5H62.6M388.2 145.5H380.2M57.1 136.12H61.1M388.2 136.12H384.2M57.1 126.74H61.1M388.2 126.74H384.2M57.1 117.36H61.1M388.2 117.36H384.2M57.1 107.98H61.1M388.2 107.98H384.2M57.1 98.6H62.6M388.2 98.6H380.2M57.1 89.22H61.1M388.2 89.22H384.2M57.1 79.84H61.1M388.2 79.84H384.2M57.1 70.46H61.1M388.2 70.46H384.2M57.1 61.08H61.1M388.2 61.08H384.2M57.1 51.7H62.6M388.2 51.7H380.2M57.1 42.32H61.1M388.2 42.32H384.2M57.1 32.94H61.1M388.2 32.94H384.2M57.1 23.56H61.1M388.2 23.56H384.2M57.1 14.18H61.1M388.2 14.18H384.2M57.1 4.8H62.6M388.2 4.8H380.2M57.1 391.9H65.1M388.2 391.9H380.2M57.1 384.38H61.1M388.2 384.38H384.2M57.1 376.86H61.1M388.2 376.86H384.2M57.1 369.34H61.1M388.2 369.34H384.2M57.1 361.82H61.1M388.2 361.82H384.2M57.1 354.3H65.1M388.2 354.3H380.2M57.1 346.78H61.1M388.2 346.78H384.2M57.1 339.26H61.1M388.2 339.26H384.2M57.1 331.74H61.1M388.2 331.74H384.2M57.1 324.22H61.1M388.2 324.22H384.2M57.1 316.7H65.1M388.2 316.7H380.2M57.1 309.18H61.1M388.2 309.18H384.2M57.1 301.66H61.1M388.2 301.66H384.2M57.1 294.14H61.1M388.2 294.14H384.2M57.1 286.62H61.1M388.2 286.62H384.2M57.1 279.1H65.1M388.2 279.1H380.2M57.1 271.58H61.1M388.2 271.58H384.2M57.1 264.06H61.1M388.2 264.06H384.2M57.1 256.54H61.1M388.2 256.54H384.2M57.1 249.02H61.1M388.2 249.02H384.2M57.1 241.5H65.1M388.2 241.5H380.2M57.1 233.98H61.1M388.2 233.98H384.2M57.1 226.46H61.1M388.2 226.46H384.2M57.1 218.94H61.1M388.2 218.94H384.2M57.1 211.42H61.1M388.2 211.42H384.2M57.1 203.9H65.1M388.2 203.9H380.2M82.8 192.5V188.7M82.8 391.6V387.8M108.28 192.5V190.5M108.28 391.6V389.6M133.76 192.5V188.7M133.76 391.6V387.8M159.24 192.5V190.5M159.24 391.6V389.6M184.72 192.5V188.7M184.72 391.6V387.8M210.2 192.5V190.5M210.2 391.6V389.6M235.68 192.5V188.7M235.68 391.6V387.8M261.16 192.5V190.5M261.16 391.6V389.6M286.64 192.5V188.7M286.64 391.6V387.8M312.12 192.5V190.5M312.12 391.6V389.6M337.6 192.5V188.7M337.6 391.6V387.8M363.08 192.5V190.5M363.08 391.6V389.6" stroke="#161616" stroke-width="1.2" fill="none"/>
<g font-family="Liberation Sans, sans-serif" font-size="14.5" fill="#111" stroke="#111" stroke-width="0.3"><text transform="translate(-0.8 11) scale(1 1.04)" text-anchor="start">(a)</text><text transform="translate(48.6 11.5) scale(1 1.04)" text-anchor="end">200</text><text transform="translate(48.6 57) scale(1 1.04)" text-anchor="end"> 50</text><text transform="translate(48.6 104.4) scale(1 1.04)" text-anchor="end"> 00</text><text transform="translate(48.6 153.3) scale(1 1.04)" text-anchor="end">50</text><text transform="translate(49.4 193.6) scale(1 1.04)" text-anchor="end">0</text><text transform="translate(-0.4 212.6) scale(1 1.04)" text-anchor="start">(b)</text><text transform="translate(48 214) scale(1 1.04)" text-anchor="end"> 5</text><text transform="translate(46.8 246.2) scale(1 1.04)" text-anchor="end"> 0</text><text transform="translate(48.4 284.9) scale(1 1.04)" text-anchor="end">5</text><text transform="translate(46.8 324.5) scale(1 1.04)" text-anchor="end">0</text><text transform="translate(48.4 358.9) scale(1 1.04)" text-anchor="end">-5</text><text transform="translate(45.8 393.5) scale(1 1.04)" text-anchor="end">- 0</text><text transform="translate(82 412) scale(1 1.04)" text-anchor="middle"> 950</text><text transform="translate(132.9 412) scale(1 1.04)" text-anchor="middle"> 960</text><text transform="translate(185.3 412) scale(1 1.04)" text-anchor="middle"> 970</text><text transform="translate(235.3 412) scale(1 1.04)" text-anchor="middle"> 980</text><text transform="translate(286.7 412) scale(1 1.04)" text-anchor="middle"> 990</text><text transform="translate(336.4 412) scale(1 1.04)" text-anchor="middle">2000</text><text transform="translate(220.6 435.4) scale(1 1.04)" text-anchor="middle">Year</text><text transform="translate(15.8 149.6) rotate(-90) scale(1 1.04)" text-anchor="start">Stations (num.)</text><text transform="translate(15.6 358.6) rotate(-90) scale(1 1.04)" text-anchor="start">DTR HPF anom. (°C)</text></g>
<g fill="#111" stroke="#111" stroke-width="42.37"><path transform="translate(24.41 57) scale(0.007080078125 -0.007080078125)" d="M763 0L583 0L583 1147Q518 1085 413 1023Q307 961 223 930L223 1104Q374 1175 487 1276Q600 1377 647 1466L763 1466Z"/><path transform="translate(24.41 104.4) scale(0.007080078125 -0.007080078125)" d="M763 0L583 0L583 1147Q518 1085 413 1023Q307 961 223 930L223 1104Q374 1175 487 1276Q600 1377 647 1466L763 1466Z"/><path transform="translate(31.87 214) scale(0.007080078125 -0.007080078125)" d="M763 0L583 0L583 1147Q518 1085 413 1023Q307 961 223 930L223 1104Q374 1175 487 1276Q600 1377 647 1466L763 1466Z"/><path transform="translate(30.67 246.2) scale(0.007080078125 -0.007080078125)" d="M763 0L583 0L583 1147Q518 1085 413 1023Q307 961 223 930L223 1104Q374 1175 487 1276Q600 1377 647 1466L763 1466Z"/><path transform="translate(29.67 393.5) scale(0.007080078125 -0.007080078125)" d="M763 0L583 0L583 1147Q518 1085 413 1023Q307 961 223 930L223 1104Q374 1175 487 1276Q600 1377 647 1466L763 1466Z"/><path transform="translate(65.87 412) scale(0.007080078125 -0.007080078125)" d="M763 0L583 0L583 1147Q518 1085 413 1023Q307 961 223 930L223 1104Q374 1175 487 1276Q600 1377 647 1466L763 1466Z"/><path transform="translate(116.77 412) scale(0.007080078125 -0.007080078125)" d="M763 0L583 0L583 1147Q518 1085 413 1023Q307 961 223 930L223 1104Q374 1175 487 1276Q600 1377 647 1466L763 1466Z"/><path transform="translate(169.17 412) scale(0.007080078125 -0.007080078125)" d="M763 0L583 0L583 1147Q518 1085 413 1023Q307 961 223 930L223 1104Q374 1175 487 1276Q600 1377 647 1466L763 1466Z"/><path transform="translate(219.17 412) scale(0.007080078125 -0.007080078125)" d="M763 0L583 0L583 1147Q518 1085 413 1023Q307 961 223 930L223 1104Q374 1175 487 1276Q600 1377 647 1466L763 1466Z"/><path transform="translate(270.57 412) scale(0.007080078125 -0.007080078125)" d="M763 0L583 0L583 1147Q518 1085 413 1023Q307 961 223 930L223 1104Q374 1175 487 1276Q600 1377 647 1466L763 1466Z"/></g>
</g>
</svg>
</body></html>
